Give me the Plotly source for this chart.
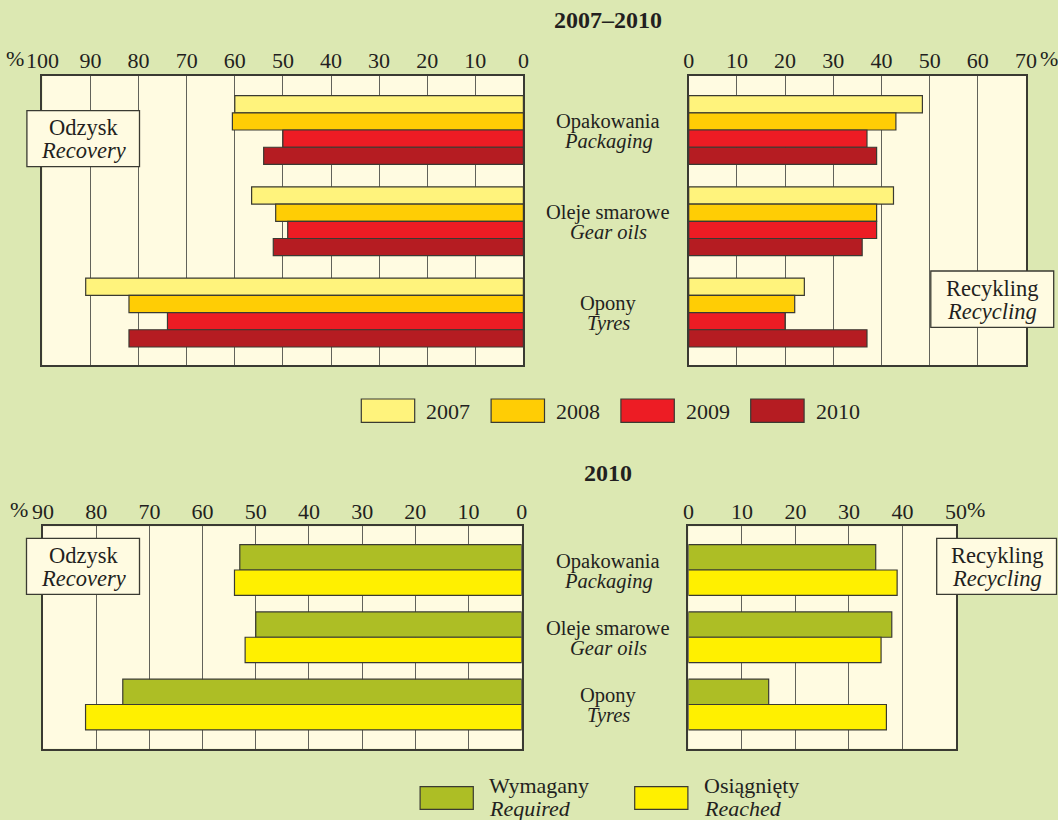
import plotly.graph_objects as go

# ---- data -------------------------------------------------------------
categories_pl = ["Opakowania", "Oleje smarowe", "Opony"]
categories_en = ["Packaging", "Gear oils", "Tyres"]
years = ["2007", "2008", "2009", "2010"]

# recovery (Odzysk), % by year
recovery_2007 = [60, 56.5, 91]
recovery_2008 = [60.5, 51.5, 82]
recovery_2009 = [50, 49, 74]
recovery_2010 = [54, 52, 82]

# recycling (Recykling), % by year
recycling_2007 = [48.5, 42.5, 24]
recycling_2008 = [43, 39, 22]
recycling_2009 = [37, 39, 20]
recycling_2010 = [39, 36, 37]

# 2010: required vs reached
required_recovery = [53, 50, 75]
reached_recovery = [54, 52, 82]
required_recycling = [35, 38, 15]
reached_recycling = [39, 36, 37]

status_pl = ["Wymagany", "Osiągnięty"]
status_en = ["Required", "Reached"]

# ---- style ------------------------------------------------------------
W, H = 1058, 820
FONT = "Liberation Serif, Times New Roman, serif"
INK = "#231f20"
PAPER = "#dce8b2"
CREAM = "#fffbe1"
GRID = "#62625a"
BORDER = "#3a3a32"
OUTLINE = "#3a3a32"
YEAR_COLORS = ["#fff37c", "#ffcd05", "#ed1c24", "#b51c22"]
STATUS_COLORS = ["#adbe25", "#fff000"]


def fx(p):
    return p / W


def fy(p):
    return 1 - p / H


fig = go.Figure()


def add_bars(series, names, colors, xa, ya):
    for vals, name, col in zip(series, names, colors):
        fig.add_trace(go.Bar(
            y=categories_pl, x=vals, orientation="h", name=name,
            marker=dict(color=col, line=dict(color=OUTLINE, width=1.2)),
            xaxis=xa, yaxis=ya, showlegend=False,
        ))


add_bars([recovery_2007, recovery_2008, recovery_2009, recovery_2010],
         years, YEAR_COLORS, "x", "y")
add_bars([recycling_2007, recycling_2008, recycling_2009, recycling_2010],
         years, YEAR_COLORS, "x2", "y2")
add_bars([required_recovery, reached_recovery], status_pl, STATUS_COLORS, "x3", "y3")
add_bars([required_recycling, reached_recycling], status_pl, STATUS_COLORS, "x4", "y4")


def xcfg(x0, x1, rng, vmax, anchor):
    vals = list(range(0, vmax + 1, 10))
    return dict(
        domain=[fx(x0), fx(x1)], range=rng, side="top",
        tickvals=vals, ticktext=[str(v) for v in vals],
        showgrid=True, gridcolor=GRID, gridwidth=1.3,
        showline=True, mirror=True, linecolor=BORDER, linewidth=1.5,
        zeroline=False, ticks="", ticklabelstandoff=-3,
        tickfont=dict(family=FONT, size=22, color=INK),
        anchor=anchor, fixedrange=True, automargin=False,
    )


def ycfg(y0, y1, rng, anchor):
    return dict(
        domain=[fy(y1), fy(y0)], type="category", categoryarray=categories_pl,
        range=rng, showticklabels=False, showgrid=False,
        showline=True, mirror=True, linecolor=BORDER, linewidth=1.5,
        zeroline=False, ticks="", anchor=anchor, fixedrange=True, automargin=False,
    )


TOP = (76, 365)
BOT = (526.3, 748.7)
TOP_RANGE = [2.575, -0.592]
BOT_RANGE = [2.657, -0.65]

fig.update_layout(
    xaxis=xcfg(42.4, 523.4, [100, 0], 100, "y"),
    yaxis=ycfg(*TOP, TOP_RANGE, "x"),
    xaxis2=xcfg(688.7, 1026, [0, 70], 70, "y2"),
    yaxis2=ycfg(*TOP, TOP_RANGE, "x2"),
    xaxis3=xcfg(43, 521.7, [90, 0], 90, "y3"),
    yaxis3=ycfg(*BOT, BOT_RANGE, "x3"),
    xaxis4=xcfg(688.4, 956, [0, 50], 50, "y4"),
    yaxis4=ycfg(*BOT, BOT_RANGE, "x4"),
)

annotations = []
shapes = []


def text(x, y, s, size=21, italic=False, bold=False, xanchor="center", yref="paper", yval=None, yshift=0):
    if italic:
        s = "<i>" + s + "</i>"
    if bold:
        s = "<b>" + s + "</b>"
    annotations.append(dict(
        x=fx(x), xref="paper", xanchor=xanchor,
        y=fy(y) if yref == "paper" else yval, yref=yref, yanchor="middle", yshift=yshift,
        text=s, showarrow=False,
        font=dict(family=FONT, size=size, color=INK),
    ))


# titles
text(608, 20, "2007–2010", size=24, bold=True)
text(608, 473, "2010", size=24, bold=True)

# percent signs next to the end tick labels
text(25.5, 59, "%", size=22, xanchor="right")
text(1048.5, 59, "%", size=22)
text(29.5, 509, "%", size=22, xanchor="right")
text(976, 509, "%", size=22)

# category labels between the panels
for pl, en in zip(categories_pl, categories_en):
    text(608, 0, pl, size=20.5, yref="y", yval=pl, yshift=9)
    text(608, 0, en, size=20.5, italic=True, yref="y", yval=pl, yshift=-11)
    text(608, 0, pl, size=20.5, yref="y3", yval=pl, yshift=9)
    text(608, 0, en, size=20.5, italic=True, yref="y3", yval=pl, yshift=-11)


def box_label(x0, y0, x1, y1, l1, l2):
    shapes.append(dict(
        type="rect", xref="paper", yref="paper",
        x0=fx(x0), x1=fx(x1), y0=fy(y1), y1=fy(y0),
        fillcolor=CREAM, line=dict(color=BORDER, width=1.3), layer="above",
    ))
    cx = (x0 + x1) / 2
    cy = (y0 + y1) / 2
    text(cx, cy - 11, l1, size=22.5)
    text(cx, cy + 12, l2, size=22.5, italic=True)


box_label(26.9, 110.7, 139.5, 166.7, "Odzysk", "Recovery")
box_label(930.8, 271, 1053.7, 327.3, "Recykling", "Recycling")
box_label(26.5, 538.3, 139.5, 594.3, "Odzysk", "Recovery")
box_label(936.7, 538.3, 1056.5, 594.3, "Recykling", "Recycling")

# year legend
for i, (yr, col) in enumerate(zip(years, YEAR_COLORS)):
    bx = 361.3 + i * 129.8
    shapes.append(dict(
        type="rect", xref="paper", yref="paper",
        x0=fx(bx), x1=fx(bx + 53.4), y0=fy(422.3), y1=fy(399),
        fillcolor=col, line=dict(color=OUTLINE, width=1.2),
    ))
    text(bx + 63, 411, yr, size=22, xanchor="left")

# status legend
for bx, col, pl, en in zip([420.1, 634.7], STATUS_COLORS, status_pl, status_en):
    shapes.append(dict(
        type="rect", xref="paper", yref="paper",
        x0=fx(bx), x1=fx(bx + 53.2), y0=fy(809.3), y1=fy(786.7),
        fillcolor=col, line=dict(color=OUTLINE, width=1.2),
    ))
    text(bx + 67, 785, pl, size=22, xanchor="left")
    text(bx + 67, 808, en, size=22, italic=True, xanchor="left")

fig.update_layout(
    width=W, height=H, autosize=False,
    margin=dict(l=0, r=0, t=0, b=0, pad=0, autoexpand=False),
    paper_bgcolor=PAPER, plot_bgcolor=CREAM,
    barmode="group", bargap=0.245, bargroupgap=0,
    annotations=annotations, shapes=shapes,
    showlegend=False,
    font=dict(family=FONT, color=INK),
)

fig.write_html("out.html")
